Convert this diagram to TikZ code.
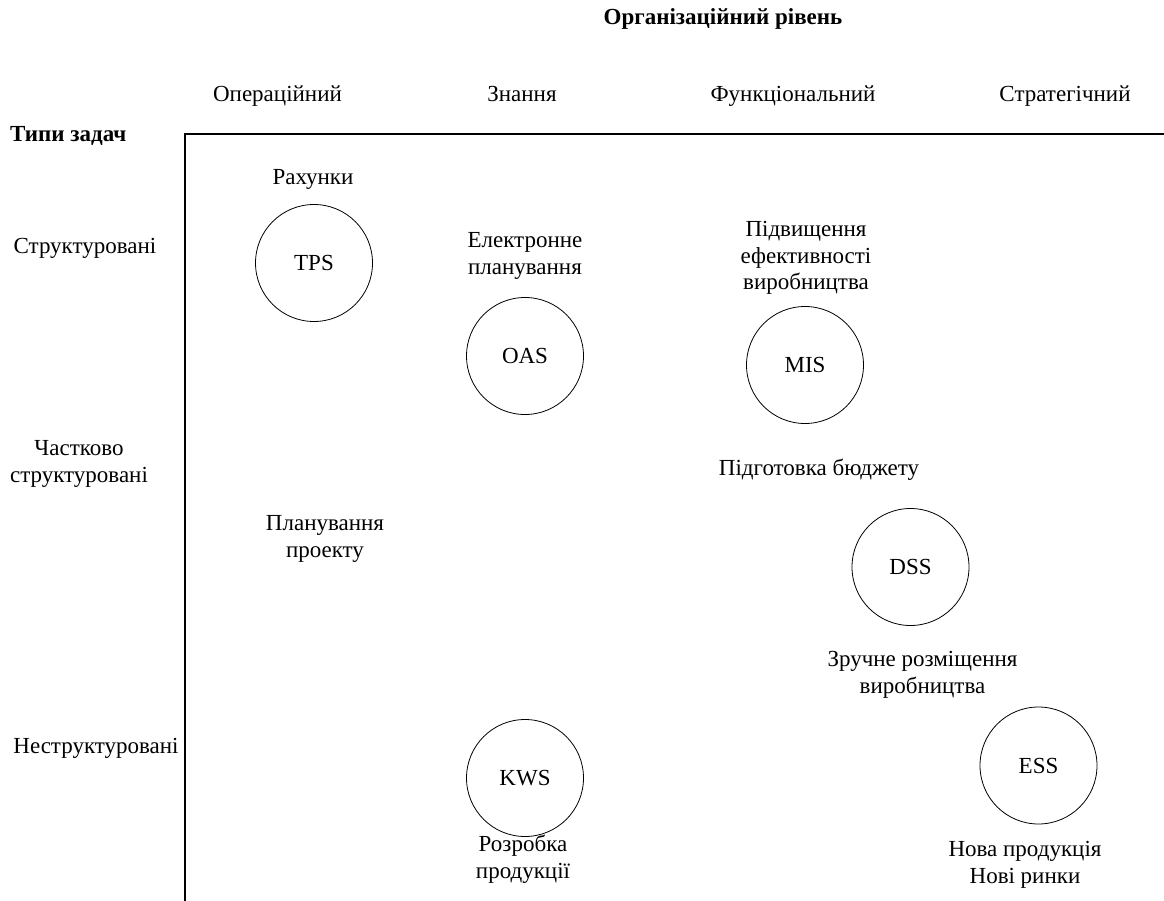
\documentclass[tikz,border=0pt]{standalone}
\usepackage{fontspec}
\setmainfont{Liberation Serif}
\begin{document}
\begin{tikzpicture}[x=1pt,y=-1pt,
  lbl/.style={font=\fontsize{23}{26.5}\selectfont, align=center, inner sep=0pt, text height=16pt, text depth=5pt},
  hdr/.style={font=\fontsize{23}{26.5}\selectfont\bfseries, inner sep=0pt, text height=16pt, text depth=5pt},
  sys/.style={circle, draw, line width=0.8pt, minimum size=117pt, inner sep=0pt, font=\fontsize{23}{26.5}\selectfont},
  axis/.style={line width=1.2pt}]
\useasboundingbox (0,0) rectangle (1164,901);
% headers (multi-line labels are positioned by their last line)
\node[hdr] (org) at (723,19.5) {Організаційний рівень};
\node[hdr, anchor=west] (types) at (10,136.5) {Типи задач};
\node[lbl] (c1) at (277.5,96.5) {Операційний};
\node[lbl] (c2) at (522,96.5) {Знання};
\node[lbl] (c3) at (793,96.5) {Функціональний};
\node[lbl] (c4) at (1065,96.5) {Стратегічний};
\node[lbl] (r1) at (85,248.5) {Структуровані};
\node[lbl] (r2) at (79,476.5) {Частково\\структуровані};
\node[lbl] (r3) at (96,747.5) {Неструктуровані};
% axes
\coordinate (corner) at (185,134);
\coordinate (xend) at (1164,134);
\coordinate (yend) at (185,901);
\draw[axis] (xend) -- (corner) -- (yend);
% systems
\node[sys] (tps) at (314,263) {TPS};
\node[sys] (oas) at (525,356) {OAS};
\node[sys] (mis) at (805,365) {MIS};
\node[sys] (dss) at (910.5,567) {DSS};
\node[sys] (kws) at (525,778) {KWS};
\node[sys] (ess) at (1038.5,765.5) {ESS};
% task labels
\node[lbl] (t1) at (313,179.5) {Рахунки};
\node[lbl] (t2) at (525,269) {Електронне\\планування};
\node[lbl] (t3) at (806,284.5) {Підвищення\\ефективності\\виробництва};
\node[lbl] (t4) at (819,469.5) {Підготовка бюджету};
\node[lbl] (t5) at (325,551.5) {Планування\\проекту};
\node[lbl] (t6) at (922.5,687.5) {Зручне розміщення\\виробництва};
\node[lbl] (t7) at (523,872.5) {Розробка\\продукції};
\node[lbl] (t8) at (1025,877.5) {Нова продукція\\Нові ринки};
\end{tikzpicture}
\end{document}
